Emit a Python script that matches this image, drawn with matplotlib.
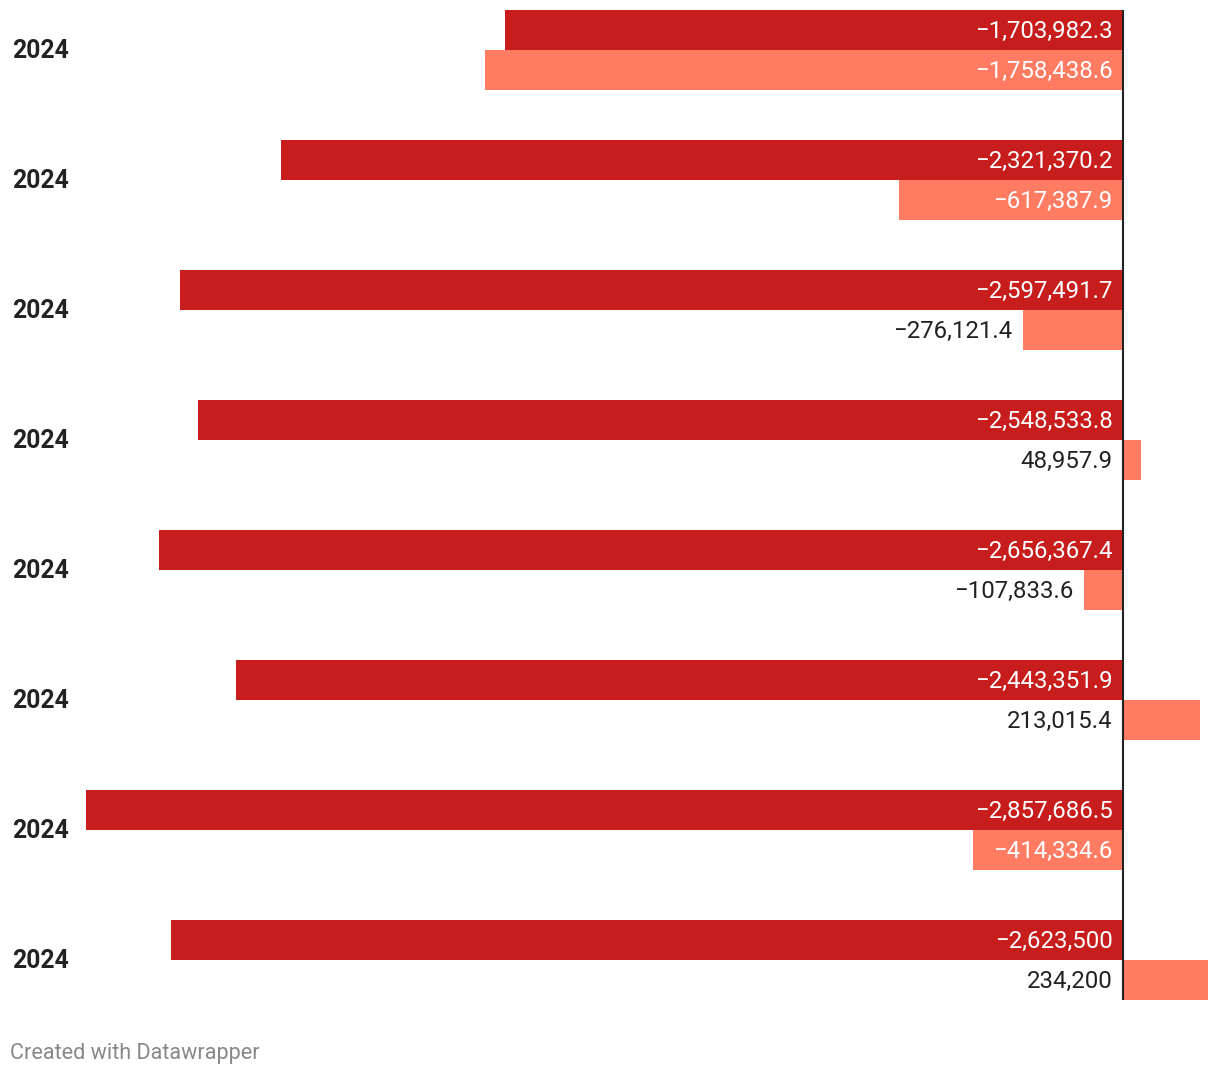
import matplotlib.pyplot as plt
from matplotlib.transforms import blended_transform_factory

plt.rcParams['font.family'] = ['Roboto', 'DejaVu Sans']

# data
years = ["2024", "2024", "2024", "2024", "2024", "2024", "2024", "2024"]
dark_vals = [-1703982.3, -2321370.2, -2597491.7, -2548533.8,
             -2656367.4, -2443351.9, -2857686.5, -2623500]
light_vals = [-1758438.6, -617387.9, -276121.4, 48957.9,
              -107833.6, 213015.4, -414334.6, 234200]

DARK = "#c71e1d"
LIGHT = "#ff7c63"
TXT = "#222222"

W, H = 1220, 1076
fig = plt.figure(figsize=(W / 100, H / 100), dpi=100)
# axes in pixel box: x 86..1208, y 10..1000 (from top)
ax = fig.add_axes([86 / W, (H - 1000) / H, (1208 - 86) / W, 990 / H])

step = 130
bh = 40
xmin = min(dark_vals + light_vals)
xmax = max(dark_vals + light_vals)
ax.set_xlim(xmin, xmax)
ax.set_ylim(990, 0)
ax.axis("off")

FS = 17.3


def fmt(v):
    if float(v).is_integer():
        s = f"{abs(v):,.0f}"
    else:
        s = f"{abs(v):,.1f}"
    return ("\u2212" + s) if v < 0 else s


px_per_unit = (1208 - 86) / (xmax - xmin)

for i in range(len(years)):
    y0 = i * step
    ax.barh(y0 + bh / 2, dark_vals[i], height=bh, color=DARK, linewidth=0)
    ax.barh(y0 + bh * 1.5, light_vals[i], height=bh, color=LIGHT, linewidth=0)

    # dark label always inside
    ax.annotate(fmt(dark_vals[i]), (0, y0 + bh / 2), xytext=(-7.5, -1),
                textcoords="offset points", ha="right", va="center",
                color="white", fontsize=FS)

    lv = light_vals[i]
    bar_px = abs(lv) * px_per_unit
    if lv < 0 and bar_px > 150:
        ax.annotate(fmt(lv), (0, y0 + bh * 1.5), xytext=(-7.5, -1),
                    textcoords="offset points", ha="right", va="center",
                    color="white", fontsize=FS)
    elif lv < 0:
        ax.annotate(fmt(lv), (lv, y0 + bh * 1.5), xytext=(-7.5, -1),
                    textcoords="offset points", ha="right", va="center",
                    color=TXT, fontsize=FS)
    else:
        ax.annotate(fmt(lv), (0, y0 + bh * 1.5), xytext=(-7.5, -1),
                    textcoords="offset points", ha="right", va="center",
                    color=TXT, fontsize=FS)

# zero line
ax.axvline(0, color=TXT, linewidth=1.5)

# row labels
tr = blended_transform_factory(fig.transFigure, ax.transData)
for i, lab in enumerate(years):
    ax.text(12 / W, i * step + bh + 1.5, lab, transform=tr, ha="left", va="center",
            fontsize=17.8, fontweight="bold", color=TXT)

fig.text(10 / W, 1 - 1053 / H, "Created with Datawrapper", ha="left", va="center",
         fontsize=15.6, color="#888888")

fig.savefig("out.png", dpi=100)
